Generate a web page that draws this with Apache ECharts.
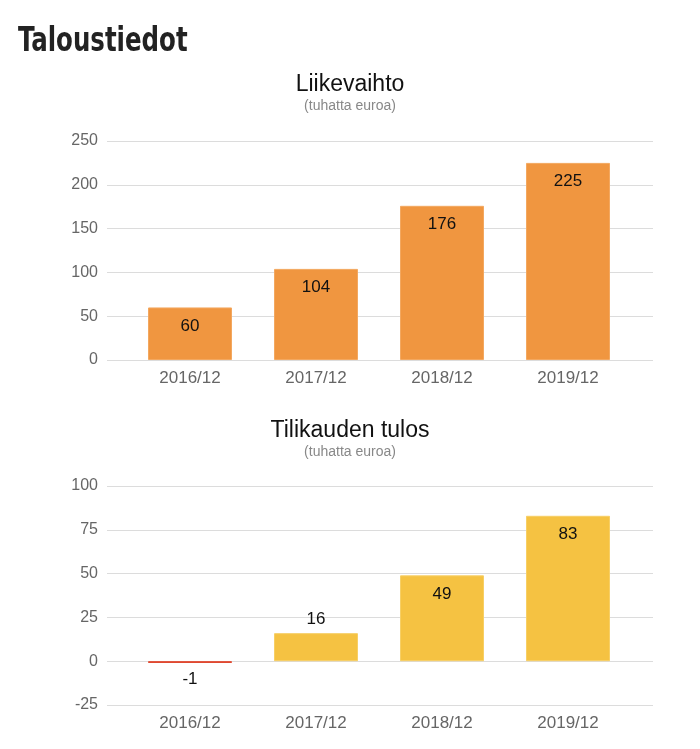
<!DOCTYPE html>
<html><head><meta charset="utf-8">
<script src="https://cdn.jsdelivr.net/npm/echarts@6/dist/echarts.min.js"></script>
<style>html,body{margin:0;padding:0;background:#fff}#c{width:700px;height:749px}</style>
</head><body><div id="c"></div>
<script>
const categories = ['2016/12','2017/12','2018/12','2019/12'];
const revenue = [60, 104, 176, 225];
const profit = [-1, 16, 49, 83];
const revenueTicks = {min: 0, max: 250, interval: 50};
const profitTicks = {min: -25, max: 100, interval: 25};

const chart = echarts.init(document.getElementById('c'));
const F = '"Liberation Sans", Arial, sans-serif';
const gridTop = [141, 486];
const H = 219;
const grids = [];
gridTop.forEach(t => {
  grids.push({left: 107, right: 47, top: t, height: H});
  grids.push({left: 127, right: 69, top: t, height: H});
});
const xAxes = [], yAxes = [];
[0,1].forEach(i => {
  xAxes.push({type:'category', gridIndex: i*2, data: categories, show: false});
  xAxes.push({type:'category', gridIndex: i*2+1, data: categories,
    axisLine:{show:false}, axisTick:{show:false},
    axisLabel:{color:'#666', fontSize:17, fontFamily:F, margin:10}});
  const tk = i === 0 ? revenueTicks : profitTicks;
  yAxes.push({type:'value', gridIndex: i*2, min: tk.min, max: tk.max, interval: tk.interval,
    axisLine:{show:false}, axisTick:{show:false},
    splitLine:{lineStyle:{color:'#dcdcdc', width:1}},
    axisLabel:{color:'#666', fontSize:16, fontFamily:F, margin:9}});
  yAxes.push({type:'value', gridIndex: i*2+1, min: tk.min, max: tk.max, interval: tk.interval, show:false, splitLine:{show:false}});
});
const lab = {color:'#111', fontSize:17, fontFamily:F};
chart.setOption({
  animation: false,
  graphic: [{
    type:'text', left: 18, top: 25, scaleX: 0.8,
    style:{text:'Taloustiedot', fill:'#222', font:'bold 34px "DejaVu Sans Condensed", "DejaVu Sans", sans-serif'}
  }],
  title: [
    {text:'Liikevaihto', subtext:'(tuhatta euroa)', left:'center', top: 68, itemGap: 3,
      textStyle:{fontFamily:F, fontSize:23, fontWeight:'normal', color:'#111'},
      subtextStyle:{fontFamily:F, fontSize:14, color:'#888'}},
    {text:'Tilikauden tulos', subtext:'(tuhatta euroa)', left:'center', top: 414, itemGap: 3,
      textStyle:{fontFamily:F, fontSize:23, fontWeight:'normal', color:'#111'},
      subtextStyle:{fontFamily:F, fontSize:14, color:'#888'}}
  ],
  grid: grids, xAxis: xAxes, yAxis: yAxes,
  series: [
    {type:'bar', xAxisIndex:1, yAxisIndex:1, data: revenue, barWidth: 84,
      itemStyle:{color:'#f09640', borderColor:'#f3a860', borderWidth:1},
      label:{show:true, position:'insideTop', distance:10, ...lab}},
    {type:'bar', xAxisIndex:3, yAxisIndex:3, barWidth: 84,
      data: profit.map(v => {
        const o = {value: v};
        if (v < 0) {
          o.itemStyle = {color:'#e0452c', borderColor:'#e0452c'};
          o.label = {position:'bottom', distance: 8};
        } else if (v < 25) {
          o.label = {position:'top', distance: 5};
        }
        return o;
      }),
      itemStyle:{color:'#f5c242', borderColor:'#f7cf65', borderWidth:1},
      label:{show:true, position:'insideTop', distance:10, ...lab}}
  ]
});
</script></body></html>
